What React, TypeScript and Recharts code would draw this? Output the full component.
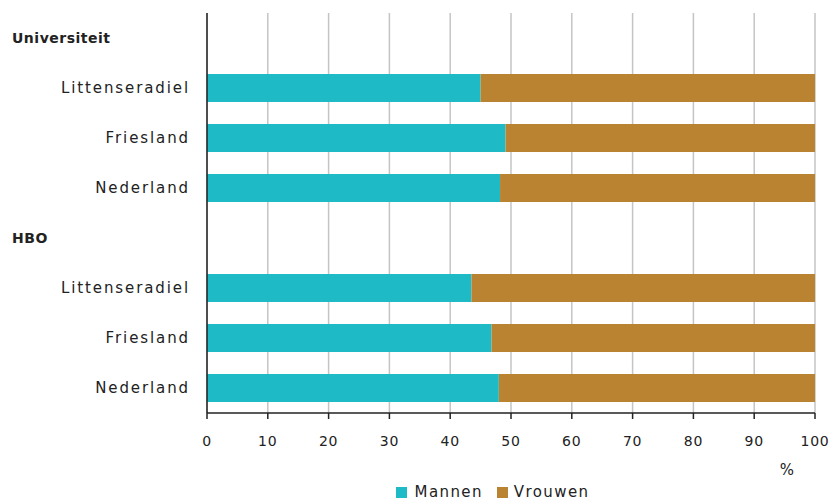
import {Bar, BarChart, CartesianGrid, Legend, XAxis, YAxis} from "recharts";

const categories = ['Universiteit', 'Littenseradiel', 'Friesland', 'Nederland', 'HBO', 'Littenseradiel', 'Friesland', 'Nederland'];
const isHeader = [true, false, false, false, true, false, false, false];
const mannen = [null, 45, 49.1, 48.2, null, 43.5, 46.8, 48];
const vrouwen = [null, 55, 50.9, 51.8, null, 56.5, 53.2, 52];
const xTicks = [0, 10, 20, 30, 40, 50, 60, 70, 80, 90, 100];

const TEAL = '#1ebbc6';
const BROWN = '#b98331';
const FONT = '"DejaVu Sans", Verdana, sans-serif';

const data = categories.map((name, i) => ({
    id: i,
    name,
    mannen: mannen[i],
    vrouwen: vrouwen[i],
}));

const CategoryTick = ({x, y, payload}: any) => {
    const i = payload.value;
    if (isHeader[i]) {
        return (
            <text x={12} y={y} dy={5} fill="#222" fontSize={14} fontWeight="bold"
                  fontFamily={FONT} textAnchor="start" letterSpacing={0.5}>
                {categories[i]}
            </text>
        );
    }
    return (
        <text x={x} y={y} dy={5} fill="#222" fontSize={15} fontFamily={FONT}
              textAnchor="end" letterSpacing={1.9}>
            {categories[i]}
        </text>
    );
};

const LegendBox = () => (
    <div style={{display: 'flex', justifyContent: 'center', alignItems: 'center', height: 20,
        fontFamily: FONT, fontSize: 15, letterSpacing: 1.4, color: '#222', paddingLeft: 170}}>
        <span style={{width: 11, height: 11, background: TEAL, display: 'inline-block', marginRight: 8}}/>
        <span style={{marginRight: 14}}>Mannen</span>
        <span style={{width: 11, height: 11, background: BROWN, display: 'inline-block', marginRight: 6}}/>
        <span>Vrouwen</span>
    </div>
);

const PercentLabel = ({viewBox}: any) => (
    <text x={viewBox.x + viewBox.width - 28} y={viewBox.y + 62} fill="#222" fontSize={15}
          fontFamily={FONT} textAnchor="middle">%</text>
);

const App = () => {
    return (
        <div style={{position: 'absolute', left: 0, top: 0, width: 836, height: 502, background: '#fff'}}>
            <BarChart width={836} height={502} data={data} layout="vertical"
                      margin={{top: 13, right: 21, left: 0, bottom: 0}} barSize={28}>
                <CartesianGrid horizontal={false} stroke="#c4c4c4" strokeWidth={1.5}/>
                <XAxis type="number" domain={[0, 100]} ticks={xTicks} height={69}
                       axisLine={{stroke: '#222', strokeWidth: 1.5}} tickLine={{stroke: '#222', strokeWidth: 1.5}}
                       tickSize={6} tickMargin={17}
                       tick={{fill: '#222', fontSize: 14, fontFamily: FONT, letterSpacing: 0.8}}
                       label={<PercentLabel/>}/>
                <YAxis type="category" dataKey="id" width={207} tickLine={false} tickSize={0} tickMargin={17}
                       axisLine={{stroke: '#222', strokeWidth: 1.5}} tick={<CategoryTick/>} interval={0}/>
                <Legend verticalAlign="bottom" height={20} content={<LegendBox/>}/>
                <Bar dataKey="mannen" stackId="a" fill={TEAL} name="Mannen" isAnimationActive={false}/>
                <Bar dataKey="vrouwen" stackId="a" fill={BROWN} name="Vrouwen" isAnimationActive={false}/>
            </BarChart>
        </div>
    );
};

export default App;
